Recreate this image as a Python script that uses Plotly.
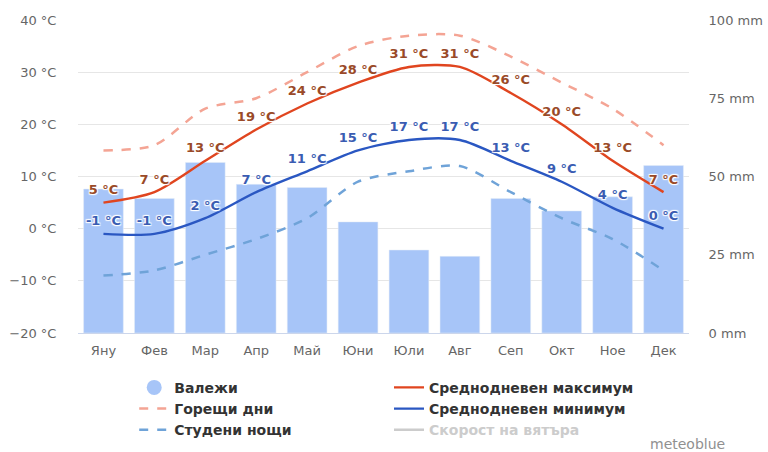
import plotly.graph_objects as go

months = ["Яну", "Фев", "Мар", "Апр", "Май", "Юни", "Юли", "Авг", "Сеп", "Окт", "Ное", "Дек"]
precip_mm = [46, 43, 54.5, 47.5, 46.5, 35.5, 26.5, 24.5, 43, 39, 43.5, 53.5]
max_temp = [5, 7, 13, 19, 24, 28, 31, 31, 26, 20, 13, 7]
min_temp = [-1, -1, 2, 7, 11, 15, 17, 17, 13, 9, 4, 0]
hot_days = [15, 16, 23, 25, 30, 35, 37, 37, 33, 28, 23, 16]
cold_nights = [-9, -8, -5, -2, 2, 9, 11, 12, 7, 2, -2, -8]
left_ticks = [-20, -10, 0, 10, 20, 30, 40]
right_ticks = [0, 25, 50, 75, 100]

FONT = "DejaVu Sans"
halo = "1px 1px 1px #fff, -1px -1px 1px #fff, 1px -1px 1px #fff, -1px 1px 1px #fff"
NOMARK = dict(size=7, color="rgba(0,0,0,0)")

fig = go.Figure()

# precipitation bars on the bottom (primary) axis, shown on the right side
fig.add_trace(go.Bar(
    x=months, y=precip_mm, yaxis="y", marker_color="#a7c5f8",
    width=0.78, showlegend=False, hoverinfo="skip"))

fig.add_trace(go.Scatter(
    x=[None], y=[None], mode="markers", name="Валежи", yaxis="y2",
    marker=dict(symbol="circle", size=15, color="#a7c5f8"), legend="legend"))
fig.add_trace(go.Scatter(
    x=months, y=hot_days, mode="lines", name="Горещи дни", yaxis="y2",
    line=dict(color="#f4a494", width=2.5, dash="dash", shape="spline", smoothing=0.8),
    legend="legend"))
fig.add_trace(go.Scatter(
    x=months, y=cold_nights, mode="lines", name="Студени нощи", yaxis="y2",
    line=dict(color="#6fa3d8", width=2.5, dash="dash", shape="spline", smoothing=0.8),
    legend="legend"))

fig.add_trace(go.Scatter(
    x=months, y=max_temp, mode="lines+markers+text", name="Среднодневен максимум", yaxis="y2",
    line=dict(color="#e0451f", width=2.4, shape="spline", smoothing=0.8),
    marker=NOMARK,
    text=[f"{v} °C" for v in max_temp], textposition="top center",
    textfont=dict(family=FONT, size=13, color="#9a4a28", weight="bold", shadow=halo),
    legend="legend2"))
fig.add_trace(go.Scatter(
    x=months, y=min_temp, mode="lines+markers+text", name="Среднодневен минимум", yaxis="y2",
    line=dict(color="#2a57c2", width=2.4, shape="spline", smoothing=0.8),
    marker=NOMARK,
    text=[f"{v} °C" for v in min_temp], textposition="top center",
    textfont=dict(family=FONT, size=13, color="#3a5cb2", weight="bold", shadow=halo),
    legend="legend2"))
fig.add_trace(go.Scatter(
    x=[None], y=[None], mode="lines", yaxis="y2",
    name="<span style='color:#cccccc'>Скорост на вятъра</span>",
    line=dict(color="#cccccc", width=2.5), legend="legend2"))

legend_common = dict(yanchor="top", xanchor="left", orientation="v",
                     bgcolor="rgba(0,0,0,0)",
                     font=dict(family=FONT, size=14, color="#333333", weight="bold"),
                     itemclick=False, itemdoubleclick=False, tracegroupgap=0)

fig.update_layout(
    width=768, height=452,
    margin=dict(l=77.5, r=78.5, t=20, b=119, autoexpand=False),
    paper_bgcolor="white", plot_bgcolor="white",
    font=dict(family=FONT, size=13, color="#666666"),
    bargap=0.22,
    xaxis=dict(range=[-0.5, len(months) - 0.5], showgrid=False, showline=True,
               linecolor="#ccd6eb", linewidth=1,
               ticks="outside", ticklen=5, tickcolor="rgba(0,0,0,0)",
               automargin=False, tickfont=dict(size=13, color="#666666")),
    yaxis=dict(range=[0, 100], tickvals=right_ticks,
               ticktext=[f"{v} mm" for v in right_ticks],
               side="right", showgrid=False, zeroline=False, automargin=False,
               ticks="outside", ticklen=16, tickcolor="rgba(0,0,0,0)",
               tickfont=dict(size=13, color="#666666")),
    yaxis2=dict(range=[-20, 40], tickvals=left_ticks,
                ticktext=[f"{v} °C".replace("-", "−") for v in left_ticks],
                overlaying="y", side="left", automargin=False,
                showgrid=True, gridcolor="#e6e6e6", zeroline=False,
                ticks="outside", ticklen=18, tickcolor="rgba(0,0,0,0)",
                tickfont=dict(size=13, color="#666666")),
    legend=dict(x=0.092, y=-0.124, **legend_common),
    legend2=dict(x=0.509, y=-0.124, **legend_common),
    annotations=[dict(text="meteoblue", xref="paper", yref="paper",
                      x=1.063, y=-0.356, xanchor="right", yanchor="middle",
                      showarrow=False, font=dict(family=FONT, size=14, color="#909090"))],
    showlegend=True,
)

fig.write_html("out.html", config={"displayModeBar": False},
               post_script="document.body.style.margin='0';document.body.style.overflow='hidden';")
